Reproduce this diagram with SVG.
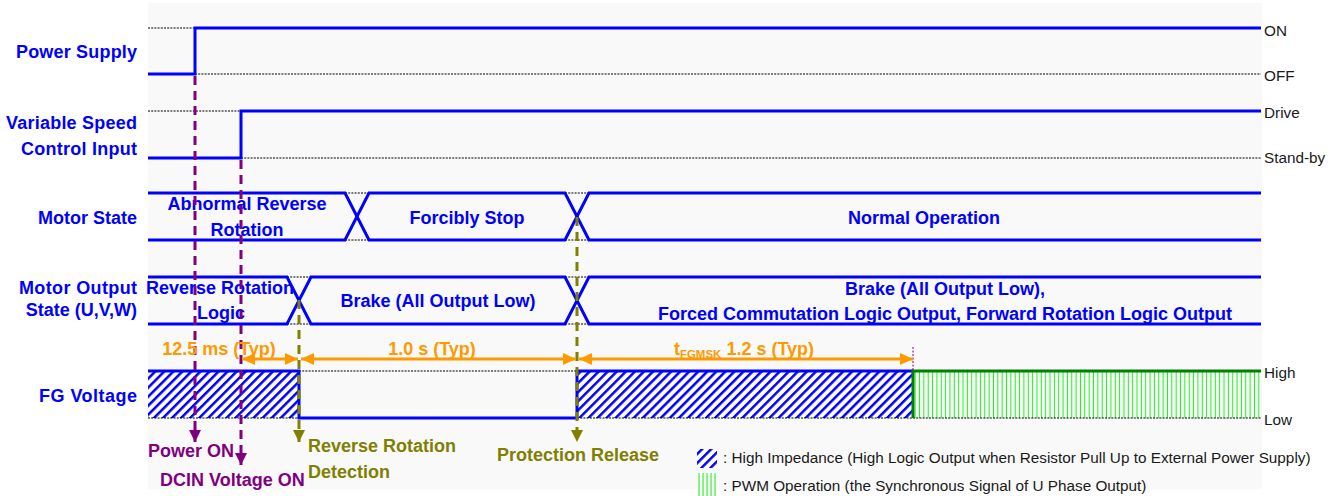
<svg xmlns="http://www.w3.org/2000/svg" width="1343" height="496" viewBox="0 0 1343 496">
<defs>
<style>
.lbl{font-family:"Liberation Sans",Arial,sans-serif;font-weight:bold;font-size:18px;fill:#0000ff}
.st{font-family:"Liberation Sans",Arial,sans-serif;font-size:15.3px;fill:#1a1a1a}
.sig{fill:none;stroke:#0000ff;stroke-width:3}
.dot{fill:none;stroke:#000;stroke-width:1.1;stroke-dasharray:2 1.2}
.pur{fill:none;stroke:#800080;stroke-width:3;stroke-dasharray:9 6}
.oli{fill:none;stroke:#808000;stroke-width:3;stroke-dasharray:9 6}
.dim{fill:none;stroke:#ff9900;stroke-width:3}
.ot{font-family:"Liberation Sans",Arial,sans-serif;font-weight:bold;font-size:18px;fill:#ff9900}
.pt{font-family:"Liberation Sans",Arial,sans-serif;font-weight:bold;font-size:18px;fill:#800080}
.olt{font-family:"Liberation Sans",Arial,sans-serif;font-weight:bold;font-size:18px;fill:#808000}
</style>
<pattern id="hatch" patternUnits="userSpaceOnUse" width="6.4" height="20" patternTransform="rotate(45)">
<rect x="0" y="0" width="6.4" height="20" fill="#ffffff"/>
<rect x="0" y="0" width="2.5" height="20" fill="#0000ff"/>
</pattern>
<pattern id="pwm" patternUnits="userSpaceOnUse" x="913" y="0" width="4.35" height="20">
<rect x="0" y="0" width="4.35" height="20" fill="#ffffff"/>
<rect x="1.6" y="0" width="1.1" height="20" fill="#22ee22"/>
</pattern>
<pattern id="pwm2" patternUnits="userSpaceOnUse" x="697" y="0" width="4" height="20">
<rect x="0" y="0" width="4" height="20" fill="#ffffff"/>
<rect x="1.5" y="0" width="1.1" height="20" fill="#22ee22"/>
</pattern>
<marker id="ap" markerUnits="userSpaceOnUse" markerWidth="12" markerHeight="14" refX="12" refY="6" orient="auto">
<path d="M0,0 L12,6 L0,12 Z" fill="#800080"/>
</marker>
<marker id="ao" markerUnits="userSpaceOnUse" markerWidth="12" markerHeight="14" refX="12" refY="6" orient="auto">
<path d="M0,0 L12,6 L0,12 Z" fill="#808000"/>
</marker>
<marker id="ad" markerUnits="userSpaceOnUse" markerWidth="14" markerHeight="14" refX="13" refY="6" orient="auto-start-reverse">
<path d="M0,0 L13,6 L0,12 Z" fill="#ff9900"/>
</marker>
</defs>
<rect x="0" y="0" width="1343" height="496" fill="#ffffff"/>
<rect x="148" y="3" width="1114" height="486" fill="#f9f9f9"/>

<g id="row-labels">
<text class="lbl" x="137" y="58" text-anchor="end" textLength="121" lengthAdjust="spacing">Power Supply</text>
<text class="lbl" x="137" y="129" text-anchor="end" textLength="131" lengthAdjust="spacing">Variable Speed</text>
<text class="lbl" x="137" y="155" text-anchor="end" textLength="116" lengthAdjust="spacing">Control Input</text>
<text class="lbl" x="137" y="224" text-anchor="end">Motor State</text>
<text class="lbl" x="137" y="294" text-anchor="end" textLength="118" lengthAdjust="spacing">Motor Output</text>
<text class="lbl" x="137" y="316" text-anchor="end">State (U,V,W)</text>
<text class="lbl" x="137" y="402" text-anchor="end" textLength="98" lengthAdjust="spacing">FG Voltage</text>
</g>

<g id="level-labels">
<text class="st" x="1264" y="36">ON</text>
<text class="st" x="1264" y="81">OFF</text>
<text class="st" x="1264" y="118">Drive</text>
<text class="st" x="1264" y="163">Stand-by</text>
<text class="st" x="1264" y="378">High</text>
<text class="st" x="1264" y="425">Low</text>
</g>

<g id="power-supply">
<path class="dot" d="M148,28 H195 M195,74 H1261"/>
<path class="sig" d="M148,74 H195 V28 H1261"/>
</g>

<g id="variable-speed">
<path class="dot" d="M148,111 H241 M241,158 H1261"/>
<path class="sig" d="M148,158 H241 V111 H1261"/>
</g>

<g id="motor-state">
<path class="dot" d="M345,193 H369 M345,240 H369 M565,193 H589 M565,240 H589"/>
<path class="sig" d="M148,193 H345 L369,240 H565 L589,193 H1261"/>
<path class="sig" d="M148,240 H345 L369,193 H565 L589,240 H1261"/>
<text class="lbl" x="247" y="210" text-anchor="middle">Abnormal Reverse</text>
<text class="lbl" x="247" y="236" text-anchor="middle">Rotation</text>
<text class="lbl" x="467" y="224" text-anchor="middle">Forcibly Stop</text>
<text class="lbl" x="924" y="224" text-anchor="middle">Normal Operation</text>
</g>

<g id="motor-output">
<path class="dot" d="M287,277 H311 M287,324 H311 M565,277 H589 M565,324 H589"/>
<path class="sig" d="M148,277 H287 L311,324 H565 L589,277 H1261"/>
<path class="sig" d="M148,324 H287 L311,277 H565 L589,324 H1261"/>
<text class="lbl" x="220" y="294" text-anchor="middle">Reverse Rotation</text>
<text class="lbl" x="221" y="319" text-anchor="middle">Logic</text>
<text class="lbl" x="438" y="307" text-anchor="middle">Brake (All Output Low)</text>
<text class="lbl" x="945" y="295" text-anchor="middle">Brake (All Output Low),</text>
<text class="lbl" x="945" y="320" text-anchor="middle">Forced Commutation Logic Output, Forward Rotation Logic Output</text>
</g>

<g id="fg-voltage">
<rect x="148" y="371" width="151" height="47" fill="url(#hatch)"/>
<rect x="577" y="371" width="336" height="47" fill="url(#hatch)"/>
<rect x="913" y="371" width="348" height="47" fill="url(#pwm)"/>
<path class="dot" d="M148,418 H299 M299,371 H577 M577,418 H1261"/>
<path class="sig" d="M148,371 H299 V418 H577 V371 H913"/>
<path d="M913,418 V371 H1261" fill="none" stroke="#008000" stroke-width="3"/>
<path d="M913,347 V371" fill="none" stroke="#800080" stroke-width="1" stroke-dasharray="2 1.5"/>
</g>

<g id="connectors">
<line class="pur" x1="195" y1="76" x2="195" y2="442" marker-end="url(#ap)"/>
<line class="pur" x1="241" y1="160" x2="241" y2="465" marker-end="url(#ap)"/>
<line class="oli" x1="299" y1="300" x2="299" y2="442" marker-end="url(#ao)"/>
<line class="oli" x1="577" y1="217" x2="577" y2="442" marker-end="url(#ao)"/>
<line class="dim" x1="242" y1="359" x2="298" y2="359" marker-start="url(#ad)" marker-end="url(#ad)"/>
<line class="dim" x1="301" y1="359" x2="576" y2="359" marker-start="url(#ad)" marker-end="url(#ad)"/>
<line class="dim" x1="579" y1="359" x2="913" y2="359" marker-start="url(#ad)" marker-end="url(#ad)"/>
</g>

<g id="dimension-labels">
<text class="ot" x="219" y="355" text-anchor="middle">12.5 ms (Typ)</text>
<text class="ot" x="432" y="355" text-anchor="middle">1.0 s (Typ)</text>
<text class="ot" x="744" y="355" text-anchor="middle">t<tspan font-size="11.5" dy="3">FGMSK</tspan><tspan dy="-3"> 1.2 s (Typ)</tspan></text>
</g>

<g id="event-labels">
<text class="pt" x="148" y="457">Power ON</text>
<text class="pt" x="160" y="486">DCIN Voltage ON</text>
<text class="olt" x="308" y="452">Reverse Rotation</text>
<text class="olt" x="308" y="478">Detection</text>
<text class="olt" x="497" y="461">Protection Release</text>
</g>

<g id="legend">
<rect x="697" y="449" width="20" height="19" fill="url(#hatch)"/>
<text class="st" x="723" y="463">: High Impedance (High Logic Output when Resistor Pull Up to External Power Supply)</text>
<rect x="697" y="473" width="20" height="23" fill="url(#pwm2)"/>
<text class="st" x="723" y="491">: PWM Operation (the Synchronous Signal of U Phase Output)</text>
</g>
</svg>
